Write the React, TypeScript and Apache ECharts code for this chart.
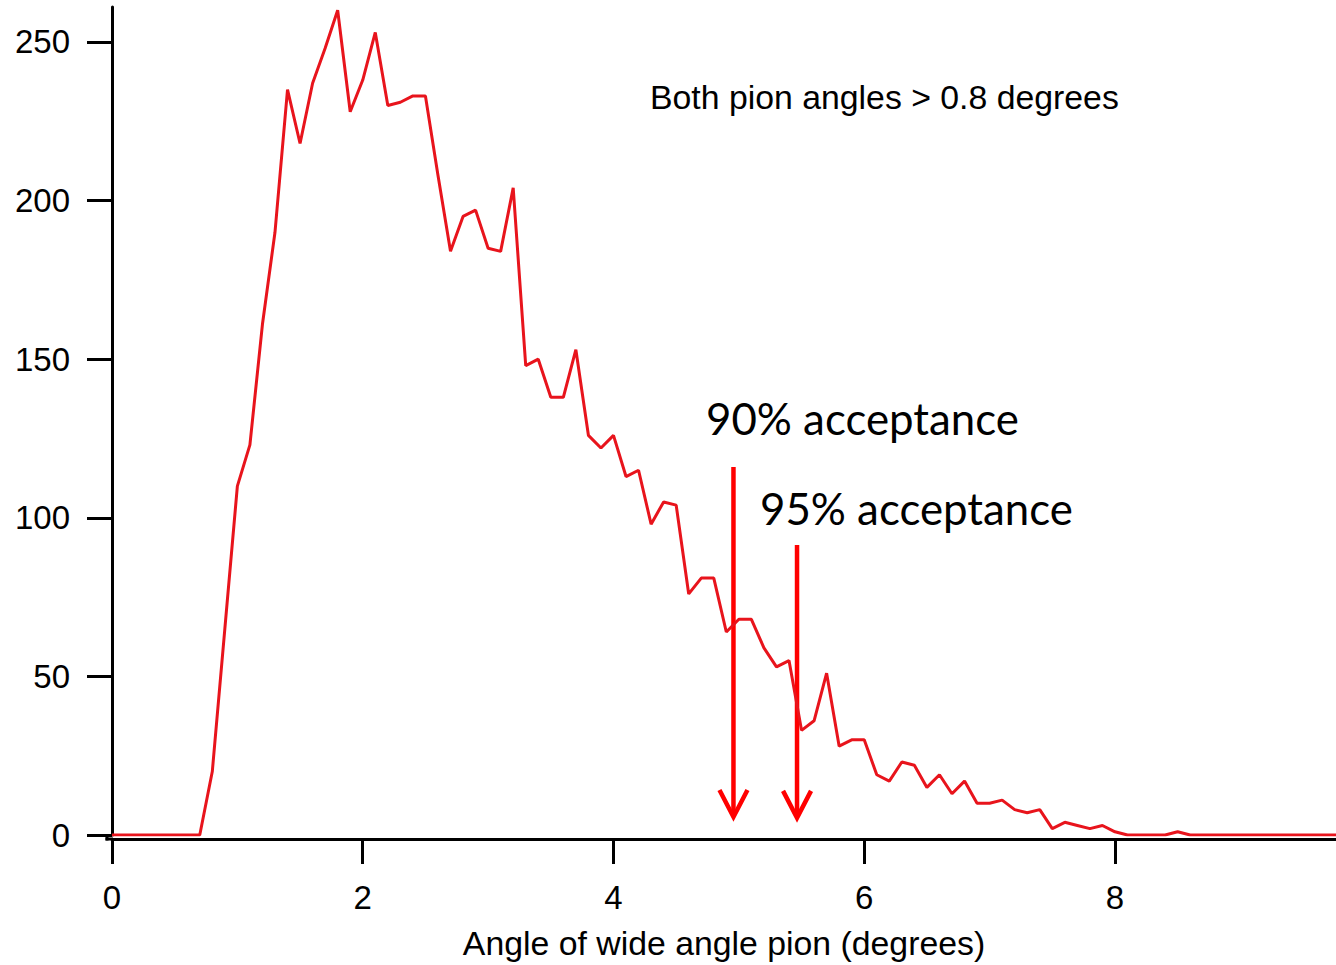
import React, { useEffect, useRef } from "react";
import * as echarts from "echarts";

// Bin centres of the histogram (degrees)
const angles = [
  0.0, 0.1, 0.2, 0.3, 0.4, 0.5, 0.6, 0.7, 0.8, 0.9,
  1.0, 1.1, 1.2, 1.3, 1.4, 1.5, 1.6, 1.7, 1.8, 1.9,
  2.0, 2.1, 2.2, 2.3, 2.4, 2.5, 2.6, 2.7, 2.8, 2.9,
  3.0, 3.1, 3.2, 3.3, 3.4, 3.5, 3.6, 3.7, 3.8, 3.9,
  4.0, 4.1, 4.2, 4.3, 4.4, 4.5, 4.6, 4.7, 4.8, 4.9,
  5.0, 5.1, 5.2, 5.3, 5.4, 5.5, 5.6, 5.7, 5.8, 5.9,
  6.0, 6.1, 6.2, 6.3, 6.4, 6.5, 6.6, 6.7, 6.8, 6.9,
  7.0, 7.1, 7.2, 7.3, 7.4, 7.5, 7.6, 7.7, 7.8, 7.9,
  8.0, 8.1, 8.2, 8.3, 8.4, 8.5, 8.6, 8.7, 8.8, 8.9,
  9.0, 9.1, 9.2, 9.3, 9.4, 9.5, 9.6, 9.7, 9.8,
];

// Counts per bin
const counts = [
  0, 0, 0, 0, 0, 0, 0, 0, 20, 65,
  110, 123, 161, 190, 235, 218, 237, 248, 260, 228,
  238, 253, 230, 231, 233, 233, 208, 184, 195, 197,
  185, 184, 204, 148, 150, 138, 138, 153, 126, 122,
  126, 113, 115, 98, 105, 104, 76, 81, 81, 64,
  68, 68, 59, 53, 55, 33, 36, 51, 28, 30,
  30, 19, 17, 23, 22, 15, 19, 13, 17, 10,
  10, 11, 8, 7, 8, 2, 4, 3, 2, 3,
  1, 0, 0, 0, 0, 1, 0, 0, 0, 0,
  0, 0, 0, 0, 0, 0, 0, 0, 0,
];

const xTicks = [0, 2, 4, 6, 8];
const yTicks = [0, 50, 100, 150, 200, 250];

const xAxisTitle = "Angle of wide angle pion (degrees)";
const noteText = "Both pion angles > 0.8 degrees";

// Acceptance arrows: x position (degrees), top and tip (counts)
const acceptanceLabels = ["90% acceptance", "95% acceptance"];
const acceptanceAngles = [4.957, 5.464];
const acceptanceTops = [116, 91.4];
const acceptanceTips = [5.7, 5.4];

const W = 1336;
const H = 965;

export default function App() {
  const ref = useRef<HTMLDivElement>(null);

  useEffect(() => {
    if (!ref.current) return;
    const chart = echarts.init(ref.current, undefined, { renderer: "svg" });
    const axisFont = "Liberation Sans, Arial, Helvetica, sans-serif";
    const gridLeft = 112;
    const gridBottom = 130;
    const gridTop = 7.1;

    chart.setOption({
      animation: false,
      backgroundColor: "#ffffff",
      grid: { left: gridLeft, right: 0, top: gridTop, bottom: gridBottom, containLabel: false },
      xAxis: {
        type: "value",
        min: 0,
        max: 9.763,
        offset: 4,
        splitLine: { show: false },
        axisLine: { show: true, onZero: false, lineStyle: { color: "#000", width: 3 } },
        axisTick: { show: true, length: 25, lineStyle: { color: "#000", width: 3 }, customValues: xTicks },
        axisLabel: {
          customValues: xTicks,
          margin: 42,
          color: "#000",
          fontSize: 33,
          fontFamily: axisFont,
        },
        name: xAxisTitle,
        nameLocation: "middle",
        nameGap: 87,
        nameTextStyle: { color: "#000", fontSize: 33.8, fontFamily: axisFont },
      },
      yAxis: {
        type: "value",
        min: 0,
        max: 261,
        offset: 5,
        splitLine: { show: false },
        axisLine: { show: true, lineStyle: { color: "#000", width: 3 } },
        axisTick: { show: true, length: 25, lineStyle: { color: "#000", width: 3 }, customValues: yTicks },
        axisLabel: {
          customValues: yTicks,
          margin: 37,
          color: "#000",
          fontSize: 33,
          fontFamily: axisFont,
        },
      },
      series: [
        {
          type: "line",
          data: angles.map((a, i) => [a, counts[i]]),
          showSymbol: false,
          symbol: "none",
          clip: true,
          lineStyle: { color: "#e8141c", width: 3 },
          itemStyle: { color: "#e8141c" },
        },
      ],
    });

    const graphics: any[] = [];
    const p0 = chart.convertToPixel({ gridIndex: 0 }, [0, 0]) as number[];
    const axisX = p0[0] - 5;
    const axisY = p0[1] + 4;
    // close the axis corner
    graphics.push({
      type: "line",
      shape: { x1: axisX, y1: p0[1] - 1, x2: axisX, y2: axisY + 1.5 },
      style: { stroke: "#000", lineWidth: 3 },
    });
    graphics.push({
      type: "line",
      shape: { x1: axisX - 1.5, y1: axisY, x2: p0[0] + 1, y2: axisY },
      style: { stroke: "#000", lineWidth: 3 },
    });

    graphics.push({
      type: "text",
      x: 650,
      y: 96.5,
      style: {
        text: noteText,
        fill: "#000",
        fontSize: 33.8,
        fontFamily: axisFont,
        align: "left",
        verticalAlign: "middle",
        textAlign: "left",
        textVerticalAlign: "middle",
      },
    });

    const labelPos = [
      [706, 418],
      [760, 508],
    ];
    acceptanceAngles.forEach((a, i) => {
      const top = chart.convertToPixel({ gridIndex: 0 }, [a, acceptanceTops[i]]) as number[];
      const tip = chart.convertToPixel({ gridIndex: 0 }, [a, acceptanceTips[i]]) as number[];
      graphics.push({
        type: "line",
        shape: { x1: top[0], y1: top[1], x2: tip[0], y2: tip[1] - 2 },
        style: { stroke: "#ff0000", lineWidth: 4.5 },
      });
      graphics.push({
        type: "polyline",
        shape: {
          points: [
            [tip[0] - 14, tip[1] - 27],
            [tip[0], tip[1]],
            [tip[0] + 14, tip[1] - 27],
          ],
        },
        style: { stroke: "#ff0000", lineWidth: 4.5, fill: "none", lineJoin: "miter" },
      });
      graphics.push({
        type: "text",
        x: labelPos[i][0],
        y: labelPos[i][1],
        style: {
          text: acceptanceLabels[i],
          fill: "#000",
          fontSize: 43.8,
          fontFamily: "Lato, 'Open Sans', sans-serif",
          align: "left",
          verticalAlign: "middle",
          textAlign: "left",
          textVerticalAlign: "middle",
        },
      });
    });

    chart.setOption({ graphic: graphics });

    return () => {
      chart.dispose();
    };
  }, []);

  return (
    <div
      ref={ref}
      style={{ position: "fixed", left: 0, top: 0, width: W, height: H, background: "#fff" }}
    />
  );
}
